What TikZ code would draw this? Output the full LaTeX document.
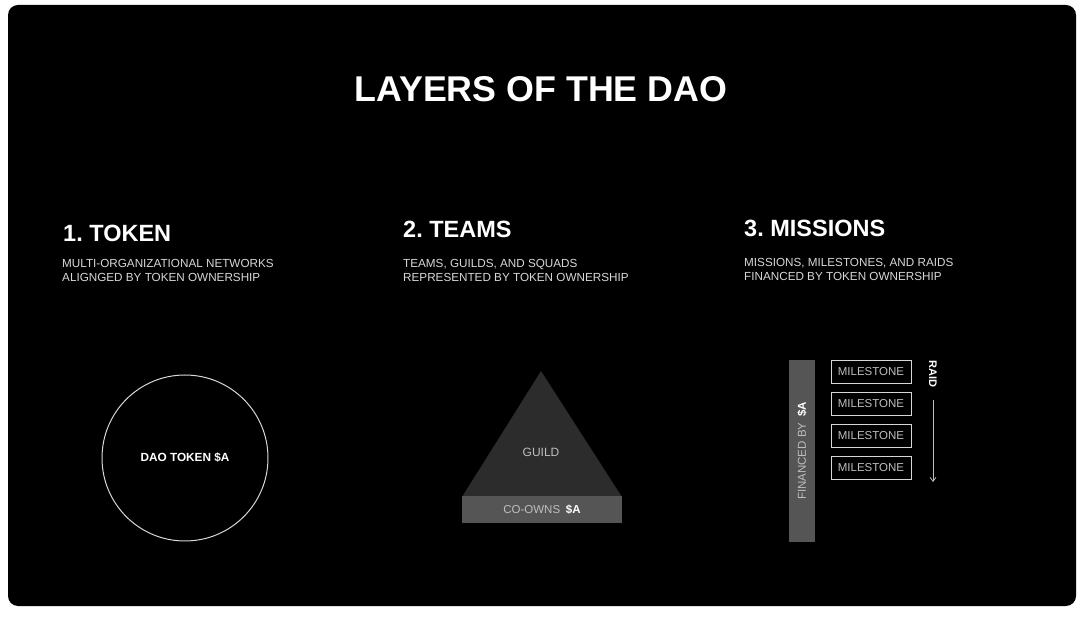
\documentclass[tikz,border=0pt]{standalone}
\usepackage{fontspec}
\setmainfont{Liberation Sans}
\usetikzlibrary{arrows.meta}
\definecolor{bargray}{RGB}{85,85,85}
\definecolor{pyrgray}{RGB}{44,44,44}
\definecolor{subgray}{RGB}{215,215,215}
\definecolor{labgray}{RGB}{190,190,190}
\frenchspacing

\begin{document}
\begin{tikzpicture}[x=1pt, y=-1pt,
                    heading/.style={anchor=base west, text=white, font=\fontsize{23.5}{26}\selectfont\bfseries, inner sep=0pt},
                    subline/.style={anchor=north west, text=subgray, align=left, font=\fontsize{11.7}{14}\selectfont, inner sep=0pt},
                    milebox/.style={rectangle, draw=subgray, line width=0.9pt, minimum width=80pt, minimum height=23pt, inner sep=0pt, text=labgray, font=\fontsize{11.5}{13}\selectfont}]
    \useasboundingbox [fill=white] (0,0) rectangle (1080,617);
    \fill [black, rounded corners=10pt] (8,5) rectangle (1076,606);

    \node [anchor=base, text=white, font=\fontsize{35.8}{40}\selectfont\bfseries, inner sep=0pt] (title) at (541,102) {LAYERS OF THE DAO};

    \node [heading] (token) at (63,242) {1. TOKEN};
    \node [heading] (teams) at (403,238) {2. TEAMS};
    \node [heading] (missions) at (744,237) {3. MISSIONS};
    \node [subline] (tokensub) at (62,259) {MULTI-ORGANIZATIONAL NETWORKS\\ALIGNGED BY TOKEN OWNERSHIP};
    \node [subline] (teamssub) at (403,259) {TEAMS, GUILDS, AND SQUADS\\REPRESENTED BY TOKEN OWNERSHIP};
    \node [subline] (missionssub) at (744,258) {MISSIONS, MILESTONES, AND RAIDS\\FINANCED BY TOKEN OWNERSHIP};

    \node [circle, draw=subgray, line width=1pt, minimum size=166pt, text=white, font=\fontsize{11.8}{13}\selectfont\bfseries] (dao) at (185,458) {DAO TOKEN \$A};

    \fill [pyrgray] (541,371) -- (622,497) -- (462,497) -- cycle;
    \node [text=labgray, font=\fontsize{12}{14}\selectfont] (guild) at (541,452) {GUILD};
    \node [rectangle, fill=bargray, minimum width=160pt, minimum height=27pt, inner sep=0pt, text=labgray, font=\fontsize{11.5}{13}\selectfont] (coowns) at (542,510) {CO-OWNS\enspace\textcolor{white}{\bfseries \$A}};

    \node [rectangle, fill=bargray, minimum width=26pt, minimum height=182pt, inner sep=0pt] (finbar) at (802,451) {};
    \node [rotate=90, text=labgray, font=\fontsize{11.5}{13}\selectfont] (financed) at (finbar.center) {FINANCED BY\enspace\textcolor{white}{\bfseries \$A}};

    \foreach \i in {0,...,3}
        \node [milebox] (mile\i) at (871,{371.5+32*\i}) {MILESTONE};

    \node [rotate=-90, text=white, font=\fontsize{11}{13}\selectfont\bfseries, inner sep=0pt] (raid) at (933,374) {RAID};
    \coordinate (raidstart) at (933,400);
    \coordinate (raidend) at (933,482);
    \draw [-{Straight Barb[length=4pt, width=6pt]}, labgray, line width=0.8pt] (raidstart) -- (raidend);
\end{tikzpicture}
\end{document}
